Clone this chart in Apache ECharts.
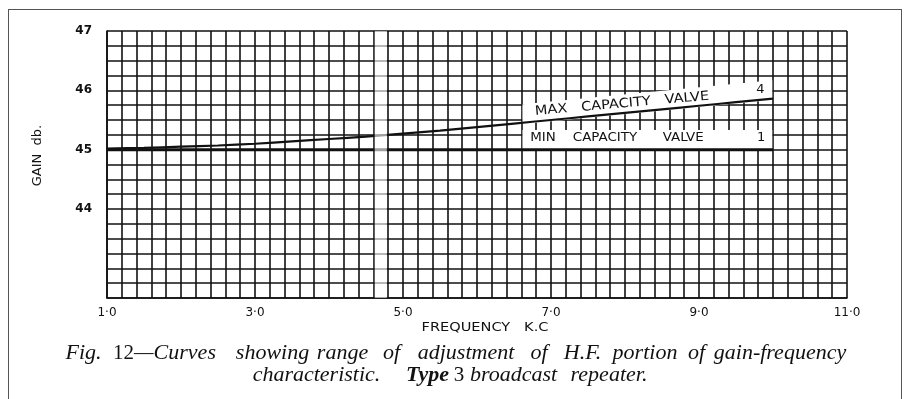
<!DOCTYPE html>
<html>
<head>
<meta charset="utf-8">
<script src="https://cdn.jsdelivr.net/npm/echarts@6/dist/echarts.min.js"></script>
<style>
  html, body { margin: 0; padding: 0; background: #ffffff; }
  #chart { width: 905px; height: 399px; }
</style>
</head>
<body>
<div id="chart"></div>
<script>
// Frequency (kc) sample points along both curves
const freqKc = [1.0, 1.5, 2.0, 2.5, 3.0, 3.5, 4.0, 4.5, 5.0, 5.5, 6.0, 6.5, 7.0, 7.5, 8.0, 8.5, 9.0, 9.5, 10.0];
// Gain (db) with the maximum-capacity valve, curve "4"
const gainMaxValve = [45.02, 45.03, 45.05, 45.07, 45.10, 45.14, 45.18, 45.22, 45.27, 45.32, 45.38, 45.44, 45.50, 45.56, 45.62, 45.68, 45.74, 45.80, 45.86];
// Gain (db) with the minimum-capacity valve, curve "1"
const gainMinValve = [45.00, 45.00, 45.00, 45.00, 45.00, 45.00, 45.00, 45.00, 45.00, 45.00, 45.00, 45.00, 45.00, 45.00, 45.00, 45.00, 45.00, 45.00, 45.00];

// Labelled axis positions
const freqTickValues = [1, 3, 5, 7, 9, 11];
const freqTickLabels = ['1·0', '3·0', '5·0', '7·0', '9·0', '11·0'];
const gainTickValues = [44, 45, 46, 47];
const gainTickLabels = ['44', '45', '46', '47'];

const curveNames = ['MAX   CAPACITY   VALVE', 'MIN    CAPACITY      VALVE'];
const curveNumbers = ['4', '1'];

const INK = '#111111';
const gridStyle = { color: INK, width: 1.6 };
const SANS = '"DejaVu Sans", sans-serif';
const SERIF = '"Liberation Serif", serif';

function tickLabel(values, labels) {
  return function (v) {
    for (let i = 0; i < values.length; i++) {
      if (Math.abs(v - values[i]) < 1e-6) return labels[i];
    }
    return '';
  };
}

function interp(xs, ys, x) {
  for (let i = 1; i < xs.length; i++) {
    if (x <= xs[i]) {
      const t = (x - xs[i - 1]) / (xs[i] - xs[i - 1]);
      return ys[i - 1] + t * (ys[i] - ys[i - 1]);
    }
  }
  return ys[ys.length - 1];
}

// Caption typesetting: each word centred on its slot, mixed italic / roman
const measureCtx = document.createElement('canvas').getContext('2d');
const captionStyles = {
  i: { fontStyle: 'italic', fontWeight: 'normal', fontSize: 22 },
  n: { fontStyle: 'normal', fontWeight: 'normal', fontSize: 21 },
  b: { fontStyle: 'italic', fontWeight: 'bold', fontSize: 22 }
};
const captionLines = [
  { y: 353.5, words: [
    [83.5, [['Fig.', 'i']]],
    [164.5, [['12', 'n'], ['—Curves', 'i']]],
    [272.5, [['showing', 'i']]],
    [342.5, [['range', 'i']]],
    [391.5, [['of', 'i']]],
    [466, [['adjustment', 'i']]],
    [539, [['of', 'i']]],
    [582.5, [['H.F.', 'i']]],
    [645, [['portion', 'i']]],
    [696.5, [['of', 'i']]],
    [780, [['gain-frequency', 'i']]]
  ]},
  { y: 375.5, words: [
    [316.5, [['characteristic.', 'i']]],
    [427.5, [['Type', 'b']]],
    [459, [['3', 'n']]],
    [513.5, [['broadcast', 'i']]],
    [609, [['repeater.', 'i']]]
  ]}
];

function fontOf(st) {
  return st.fontStyle + ' ' + st.fontWeight + ' ' + st.fontSize + 'px "Liberation Serif"';
}

function captionElements() {
  const els = [];
  captionLines.forEach(function (line) {
    line.words.forEach(function (w) {
      let total = 0;
      w[1].forEach(function (part) {
        measureCtx.font = fontOf(captionStyles[part[1]]);
        total += measureCtx.measureText(part[0]).width;
      });
      let x = w[0] - total / 2;
      w[1].forEach(function (part) {
        const st = captionStyles[part[1]];
        measureCtx.font = fontOf(st);
        els.push({
          type: 'text', x: x, y: line.y, silent: true,
          style: {
            text: part[0], fill: '#111', align: 'left', verticalAlign: 'middle',
            fontFamily: SERIF, fontSize: st.fontSize, fontStyle: st.fontStyle, fontWeight: st.fontWeight
          }
        });
        x += measureCtx.measureText(part[0]).width;
      });
    });
  });
  return els;
}

const chart = echarts.init(document.getElementById('chart'), null, { renderer: 'canvas' });

const option = {
  animation: false,
  backgroundColor: '#ffffff',
  grid: { left: 107, right: 58, top: 31, bottom: 101, containLabel: false },
  xAxis: {
    type: 'value', min: 1, max: 11, interval: 0.2,
    axisLine: { show: true, onZero: false, lineStyle: gridStyle },
    axisTick: { show: false },
    splitLine: { show: true, lineStyle: gridStyle },
    axisLabel: {
      show: true, hideOverlap: false, margin: 9,
      formatter: tickLabel(freqTickValues, freqTickLabels),
      color: INK, fontFamily: SANS, fontSize: 12
    }
  },
  yAxis: {
    type: 'value', min: 42.5, max: 47, interval: 0.25,
    axisLine: { show: true, onZero: false, lineStyle: gridStyle },
    axisTick: { show: false },
    splitLine: { show: true, lineStyle: gridStyle },
    axisLabel: {
      show: true, hideOverlap: false, margin: 15,
      formatter: tickLabel(gainTickValues, gainTickLabels),
      color: INK, fontFamily: SANS, fontSize: 12, fontWeight: 'bold'
    }
  },
  series: [
    {
      // White lettering panels for the two curve names
      type: 'custom', name: 'curve labels', z: 3, silent: true,
      data: [[1, 45]],
      renderItem: function (params, api) {
        const x0 = 6.615, x1 = 9.99;
        const b0 = interp(freqKc, gainMaxValve, x0) - 0.02;
        const b1 = interp(freqKc, gainMaxValve, x1) - 0.02;
        const lift = 0.33;
        const pMax = [api.coord([x0, b0]), api.coord([x1, b1]), api.coord([x1, b1 + lift]), api.coord([x0, b0 + lift])];
        const r0 = api.coord([x0, 45.33]);
        const r1 = api.coord([x1, 45.012]);
        const tilt = 5 * Math.PI / 180;
        const cMax = api.coord([7.96, 45.77]);
        const cMaxNum = api.coord([9.83, 46.01]);
        const cMin = api.coord([6.72, 45.21]);
        const cMinNum = api.coord([9.84, 45.21]);
        const txt = function (s, p, align, sx, rot) {
          return {
            type: 'text', x: p[0], y: p[1], rotation: rot || 0, scaleX: sx || 1,
            style: { text: s, fill: '#111', align: align, verticalAlign: 'middle', fontFamily: SANS, fontSize: 13 }
          };
        };
        return {
          type: 'group',
          children: [
            { type: 'polygon', shape: { points: pMax }, style: { fill: '#ffffff' } },
            { type: 'rect', shape: { x: r0[0], y: r0[1], width: r1[0] - r0[0], height: r1[1] - r0[1] }, style: { fill: '#ffffff' } },
            txt(curveNames[0], cMax, 'center', 1.12, tilt),
            txt(curveNumbers[0], cMaxNum, 'center', 1, 0),
            txt(curveNames[1], cMin, 'left', 1.03, 0),
            txt(curveNumbers[1], cMinNum, 'center', 1, 0)
          ]
        };
      }
    },
    {
      type: 'line', name: 'MAX CAPACITY VALVE', z: 4,
      data: freqKc.map(function (f, i) { return [f, gainMaxValve[i]]; }),
      smooth: 0.3, symbol: 'none', lineStyle: { color: INK, width: 2.2 }
    },
    {
      type: 'line', name: 'MIN CAPACITY VALVE', z: 4,
      data: freqKc.map(function (f, i) { return [f, gainMinValve[i]]; }),
      symbol: 'none', lineStyle: { color: INK, width: 3 }
    },
    {
      // Seam between the two graph sheets
      type: 'custom', name: 'seam', z: 6, silent: true,
      data: [[1, 45]],
      renderItem: function (params, api) {
        const a = api.coord([4.618, 47]);
        const b = api.coord([4.782, 42.5]);
        return { type: 'rect', shape: { x: a[0], y: a[1], width: b[0] - a[0], height: b[1] - a[1] }, style: { fill: 'rgba(255,255,255,0.6)' } };
      }
    }
  ],
  graphic: [
    // Figure frame
    { type: 'line', silent: true, shape: { x1: 8, y1: 9.5, x2: 902, y2: 9.5 }, style: { stroke: '#555', lineWidth: 1 } },
    { type: 'line', silent: true, shape: { x1: 8.5, y1: 9.5, x2: 8.5, y2: 399 }, style: { stroke: '#555', lineWidth: 1 } },
    { type: 'line', silent: true, shape: { x1: 901.5, y1: 9.5, x2: 901.5, y2: 399 }, style: { stroke: '#555', lineWidth: 1 } },
    // Axis names
    { type: 'text', x: 38, y: 155.5, rotation: Math.PI / 2, silent: true,
      style: { text: 'GAIN  db.', fill: '#111', align: 'center', verticalAlign: 'middle', fontFamily: SANS, fontSize: 13 } },
    { type: 'text', x: 485, y: 328, scaleX: 1.12, silent: true,
      style: { text: 'FREQUENCY   K.C', fill: '#111', align: 'center', verticalAlign: 'middle', fontFamily: SANS, fontSize: 13 } }
  ].concat(captionElements())
};

chart.setOption(option);
</script>
</body>
</html>
